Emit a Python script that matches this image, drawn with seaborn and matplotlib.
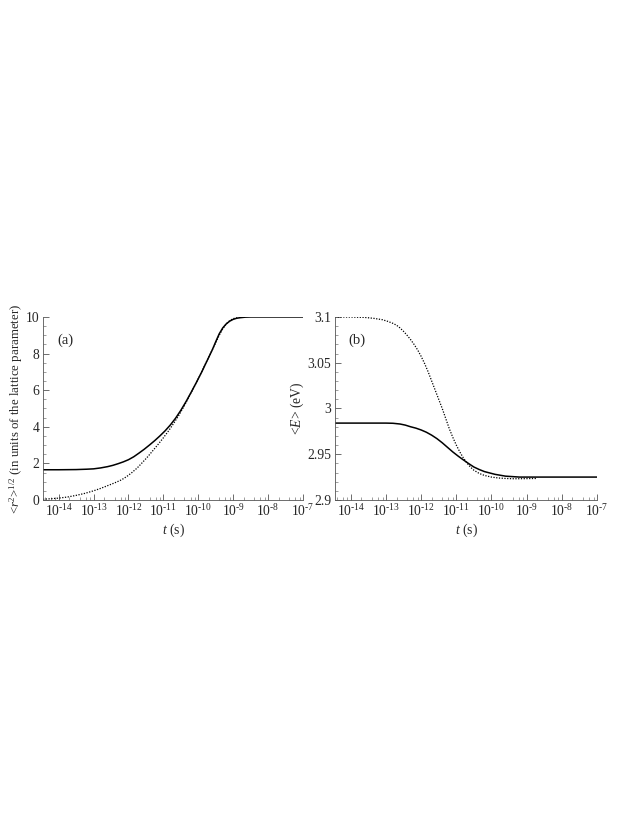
import numpy as np
import pandas as pd
import matplotlib
matplotlib.use("Agg")
import matplotlib.pyplot as plt
import matplotlib.ticker as mticker
import seaborn as sns

# ---- data (log10 of time in s) ----
a_solid_logt = [-14.45, -14.0, -13.5, -13.2, -13.0, -12.8, -12.6, -12.45, -12.3, -12.15,
                -12.0, -11.85, -11.7, -11.55, -11.4, -11.25, -11.1, -10.95, -10.8, -10.65,
                -10.5, -10.35, -10.2, -10.05, -9.9, -9.75, -9.6, -9.5, -9.4, -9.3,
                -9.2, -9.1, -9.0, -8.9, -8.8, -8.65, -8.5, -7.0]
a_solid_val = [1.65, 1.65, 1.66, 1.68, 1.70, 1.75, 1.82, 1.89, 1.98, 2.08,
               2.2, 2.36, 2.56, 2.77, 3.0, 3.24, 3.5, 3.78, 4.1, 4.47,
               4.9, 5.38, 5.9, 6.44, 7.0, 7.6, 8.2, 8.65, 9.08, 9.4,
               9.62, 9.77, 9.87, 9.93, 9.96, 9.99, 10.0, 10.0]

a_dot_logt = [-14.45, -14.2, -14.0, -13.75, -13.5, -13.25, -13.0, -12.8, -12.6, -12.4,
              -12.2, -12.05, -11.9, -11.75, -11.6, -11.45, -11.3, -11.15, -11.0, -10.85,
              -10.7, -10.55, -10.4, -10.25, -10.1, -9.95, -9.8, -9.65, -9.5, -9.4,
              -9.3, -9.2, -9.1, -9.0, -8.85, -8.7]
a_dot_val = [0.04, 0.07, 0.10, 0.16, 0.25, 0.36, 0.5, 0.63, 0.78, 0.93,
             1.1, 1.28, 1.5, 1.75, 2.05, 2.36, 2.7, 3.04, 3.4, 3.78,
             4.2, 4.65, 5.15, 5.7, 6.25, 6.82, 7.42, 8.0, 8.6, 9.0,
             9.35, 9.62, 9.8, 9.91, 9.97, 10.0]

b_solid_logt = [-14.45, -13.0, -12.8, -12.6, -12.45, -12.3, -12.15, -12.0, -11.85, -11.7,
                -11.55, -11.4, -11.25, -11.1, -10.95, -10.8, -10.65, -10.5, -10.35, -10.2,
                -10.05, -9.9, -9.75, -9.6, -9.4, -9.2, -7.0]
b_solid_val = [2.984, 2.984, 2.9838, 2.983, 2.9818, 2.980, 2.9785, 2.9765, 2.974, 2.9708,
               2.967, 2.9625, 2.9575, 2.9525, 2.948, 2.9438, 2.9398, 2.936, 2.9333, 2.931,
               2.9295, 2.928, 2.927, 2.926, 2.9255, 2.925, 2.925]

b_dot_logt = [-14.45, -14.0, -13.6, -13.35, -13.1, -12.95, -12.8, -12.7, -12.6, -12.5,
              -12.4, -12.3, -12.2, -12.1, -12.0, -11.9, -11.8, -11.7, -11.6, -11.5,
              -11.4, -11.3, -11.2, -11.1, -11.0, -10.9, -10.8, -10.7, -10.6, -10.5,
              -10.35, -10.2, -10.0, -9.8, -9.6, -9.4, -9.2, -9.0, -8.7]
b_dot_val = [3.100, 3.0999, 3.0995, 3.0985, 3.097, 3.0952, 3.093, 3.091, 3.088, 3.0843,
             3.080, 3.0753, 3.070, 3.064, 3.057, 3.049, 3.040, 3.030, 3.020, 3.010,
             3.000, 2.989, 2.978, 2.9685, 2.960, 2.9525, 2.946, 2.9405, 2.936, 2.9325,
             2.929, 2.9268, 2.925, 2.924, 2.9235, 2.9232, 2.9232, 2.9233, 2.9235]

a_yticks = [0, 2, 4, 6, 8, 10]
b_yticks = [2.9, 2.95, 3.0, 3.05, 3.1]
b_ytick_labels = ["2.9", "2.95", "3", "3.05", "3.1"]
x_decades = list(range(-14, -6))

sns.set_style("ticks")
plt.rcParams["font.family"] = ["Liberation Serif", "DejaVu Serif"]
plt.rcParams["mathtext.fontset"] = "custom"
plt.rcParams["mathtext.rm"] = "Liberation Serif"
plt.rcParams["mathtext.it"] = "Liberation Serif:italic"
plt.rcParams["mathtext.bf"] = "Liberation Serif:bold"

def frame(logt, val, name):
    return pd.DataFrame({"t": np.power(10.0, logt), "v": val, "s": name})

fig = plt.figure(figsize=(6.38, 8.25), dpi=100)
ax_a = fig.add_axes([0.0674, 0.394, 0.4075, 0.2218])
ax_b = fig.add_axes([0.525, 0.394, 0.4107, 0.2218])

fs_tick = 9.8
fs_lab = 9.3
fs_panel = 10.5
for ax, solid, dot in [
    (ax_a, frame(a_solid_logt, a_solid_val, "solid"), frame(a_dot_logt, a_dot_val, "dot")),
    (ax_b, frame(b_solid_logt, b_solid_val, "solid"), frame(b_dot_logt, b_dot_val, "dot")),
]:
    sns.lineplot(data=solid, x="t", y="v", ax=ax, color="black", linewidth=1.1,
                 estimator=None, sort=False)
    sns.lineplot(data=dot, x="t", y="v", ax=ax, color="black", linewidth=0.9,
                 linestyle=(0, (1, 1.2)), estimator=None, sort=False)
    ax.set_xscale("log")
    ax.set_xlim(10 ** -14.45, 1e-7)
    ax.xaxis.set_major_locator(mticker.FixedLocator([10.0 ** d for d in x_decades]))
    ax.xaxis.set_major_formatter(mticker.FixedFormatter(
        ["10$^{\\mathrm{\u2010}%d}$" % (-d) for d in x_decades]))
    ax.xaxis.set_minor_locator(mticker.LogLocator(base=10, subs=(2, 4, 6, 8), numticks=30))
    ax.xaxis.set_minor_formatter(mticker.NullFormatter())
    for s in ["top", "right"]:
        ax.spines[s].set_visible(False)
    for s in ["left", "bottom"]:
        ax.spines[s].set_linewidth(0.6)
        ax.spines[s].set_color("#555555")
    ax.tick_params(which="major", direction="in", length=4, width=0.6, color="#555555",
                   labelsize=fs_tick, pad=2.5)
    ax.tick_params(which="minor", direction="in", length=2, width=0.5, color="#777777")
    ax.set_xlabel(r"$t$ (s)", fontsize=fs_lab + 0.5, labelpad=2)

ax_a.set_ylim(0, 10)
ax_a.set_yticks(a_yticks)
ax_a.set_yticklabels([str(v) for v in a_yticks])
ax_a.yaxis.set_minor_locator(mticker.MultipleLocator(0.5))
ax_a.set_ylabel(r"<$r$$^{2}$>$^{1/2}$ (in units of the lattice parameter)", fontsize=fs_lab,
                labelpad=1)
ax_a.text(0.054, 0.875, "(a)", transform=ax_a.transAxes, fontsize=fs_panel,
          ha="left", va="center")

ax_b.set_ylim(2.9, 3.1)
ax_b.set_yticks(b_yticks)
ax_b.set_yticklabels(b_ytick_labels)
ax_b.yaxis.set_minor_locator(mticker.MultipleLocator(0.01))
ax_b.set_ylabel(r"<$E$> (eV)", fontsize=fs_lab + 0.5, labelpad=1)
ax_b.text(0.05, 0.875, "(b)", transform=ax_b.transAxes, fontsize=fs_panel,
          ha="left", va="center")

fig.savefig("out.png", dpi=100)
